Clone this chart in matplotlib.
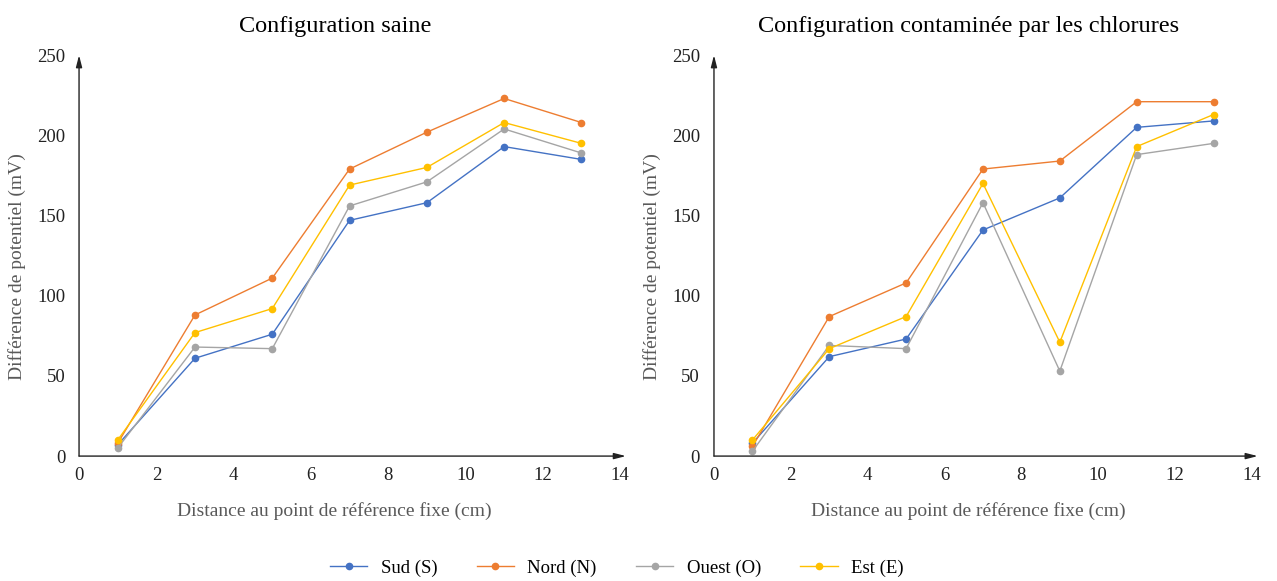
import numpy as np
import matplotlib.pyplot as plt

plt.rcParams['font.family'] = ['Liberation Serif', 'DejaVu Serif']

# Data
distance = [1, 3, 5, 7, 9, 11, 13]

saine_sud = [7, 61, 76, 147, 158, 193, 185]
saine_nord = [8, 88, 111, 179, 202, 223, 208]
saine_ouest = [5, 68, 67, 156, 171, 204, 189]
saine_est = [10, 77, 92, 169, 180, 208, 195]

chlor_sud = [8, 62, 73, 141, 161, 205, 209]
chlor_nord = [6, 87, 108, 179, 184, 221, 221]
chlor_ouest = [3, 69, 67, 158, 53, 188, 195]
chlor_est = [10, 67, 87, 170, 71, 193, 213]

series_names = ['Sud (S)', 'Nord (N)', 'Ouest (O)', 'Est (E)']
colors = ['#4472C4', '#ED7D31', '#A5A5A5', '#FFC000']
titles = ['Configuration saine', 'Configuration contaminée par les chlorures']
x_ticks = [0, 2, 4, 6, 8, 10, 12, 14]
y_ticks = [0, 50, 100, 150, 200, 250]


def draw_panel(ax, values, title):
    for vals, name, c in zip(values, series_names, colors):
        ax.plot(distance, vals, color=c, lw=1.0, marker='o', ms=4.5,
                label=name, clip_on=False)
    ax.set_xlim(0, 14)
    ax.set_ylim(0, 250)
    ax.set_xticks(x_ticks)
    ax.set_yticks(y_ticks)
    ax.tick_params(length=0, labelsize=13.5, colors='#222222')
    ax.tick_params(axis='x', pad=8)
    ax.tick_params(axis='y', pad=10)
    for s in ax.spines.values():
        s.set_visible(False)
    # axis lines with arrow heads
    arrow = dict(arrowstyle='-|>,head_width=0.18,head_length=0.7',
                 color='#222222', lw=1.0, shrinkA=0, shrinkB=0)
    ax.annotate('', xy=(14.15, 0), xytext=(0, 0), arrowprops=arrow,
                annotation_clip=False)
    ax.annotate('', xy=(0, 250), xytext=(0, 0), arrowprops=arrow,
                annotation_clip=False)
    ax.set_title(title, fontsize=17.5, pad=17, x=0.474)
    ax.set_xlabel('Distance au point de référence fixe (cm)', fontsize=14,
                  color='#595959', labelpad=14)
    ax.xaxis.set_label_coords(0.472, -0.115)
    ax.set_ylabel('Différence de potentiel (mV)', fontsize=14,
                  color='#595959', labelpad=8)
    ax.yaxis.label.set_y(0.474)


fig = plt.figure(figsize=(12.77, 5.81), dpi=100)
ax1 = fig.add_axes([0.0619, 0.215, 0.4237, 0.690])
ax2 = fig.add_axes([0.5591, 0.215, 0.4213, 0.690])

draw_panel(ax1, [saine_sud, saine_nord, saine_ouest, saine_est], titles[0])
draw_panel(ax2, [chlor_sud, chlor_nord, chlor_ouest, chlor_est], titles[1])

handles, labels = ax1.get_legend_handles_labels()
fig.legend(handles, labels, loc='center', bbox_to_anchor=(0.483, 0.022),
           ncol=4, frameon=False, fontsize=13.5, handlelength=2.0,
           columnspacing=2.1, handletextpad=0.7)

fig.savefig('out.png', dpi=100)
